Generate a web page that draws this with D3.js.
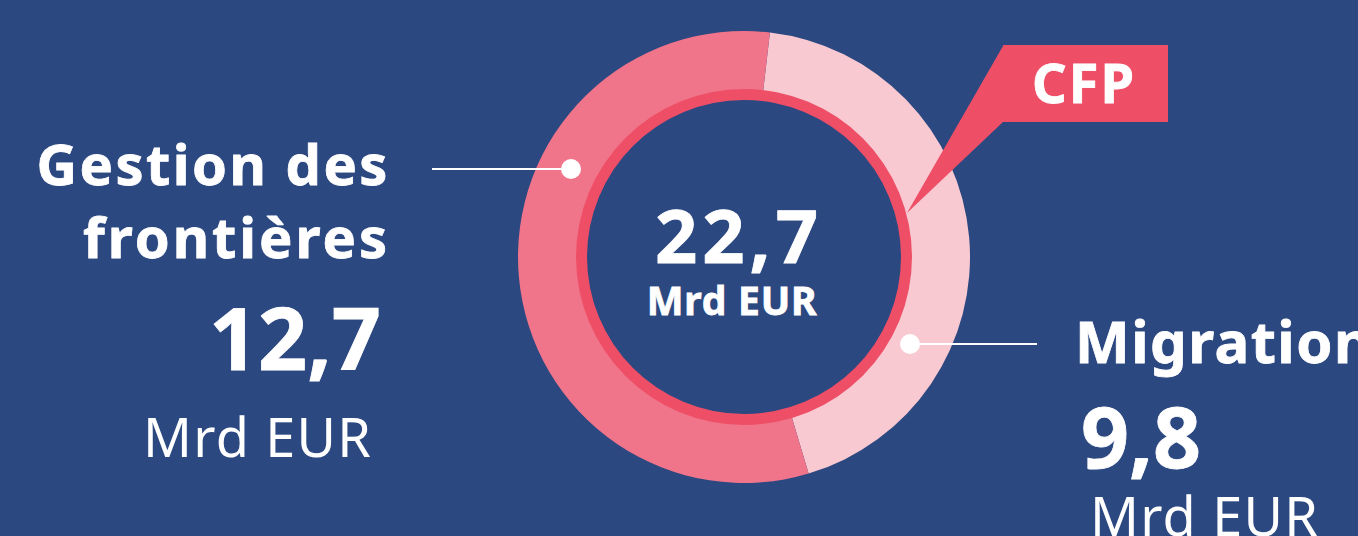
<!DOCTYPE html>
<html>
<head>
<meta charset="utf-8">
<script src="https://cdn.jsdelivr.net/npm/d3@7"></script>
<style>
  html, body { margin: 0; padding: 0; background: #2c4880; overflow: hidden; }
  svg { display: block; }
  text { font-family: "Noto Sans", "Open Sans", sans-serif; fill: #fff; }
  text.b { stroke: #fff; stroke-width: 0.8px; }
</style>
</head>
<body>
<svg></svg>
<script>
// data
const categories = ['Migration', 'Gestion des frontières']
const values = [9.8, 12.7]
const valueLabels = ['9,8', '12,7']
const totalLabel = '22,7'
const unit = 'Mrd EUR'
const calloutLabel = 'CFP'

const width = 1358
const height = 536
const cx = 744, cy = 257
const outerR = 226, innerR = 158

const colors = d3.scaleOrdinal()
    .domain(categories)
    .range(['#f9c9d2', '#f0748a'])

const svg = d3.select('svg')
    .attr('width', width)
    .attr('height', height)

svg.append('rect')
    .attr('width', width)
    .attr('height', height)
    .attr('fill', '#2c4880')

const startA = 0.115
const pie = d3.pie()
    .sort(null)
    .startAngle(startA)
    .endAngle(startA + 2 * Math.PI)
    .value(d => d.value)

const data = categories.map((c, i) => ({ name: c, value: values[i], label: valueLabels[i] }))
const arcs = pie(data)

const arc = d3.arc().innerRadius(innerR).outerRadius(outerR)

const g = svg.append('g').attr('transform', `translate(${cx},${cy})`)

g.selectAll('path.slice')
    .data(arcs)
    .enter()
    .append('path')
    .attr('class', 'slice')
    .attr('d', arc)
    .attr('fill', d => colors(d.data.name))

// red inner ring
g.append('path')
    .attr('d', d3.arc().innerRadius(157).outerRadius(168).startAngle(0).endAngle(2 * Math.PI)())
    .attr('fill', '#ee4f67')

// CFP callout
const callout = svg.append('g')
callout.append('path')
    .attr('d', 'M1003,46 L907,213 L1003,122 Z')
    .attr('fill', '#ee4f67')
callout.append('rect')
    .attr('x', 1003).attr('y', 45)
    .attr('width', 165).attr('height', 77)
    .attr('fill', '#ee4f67')
callout.append('text')
    .attr('class', 'b')
    .attr('x', 1084).attr('y', 103)
    .attr('text-anchor', 'middle')
    .attr('font-size', 54)
    .attr('font-weight', 700)
    .attr('letter-spacing', 2)
    .text(calloutLabel)

// center total
g.append('text')
    .attr('class', 'b')
    .attr('x', -5).attr('y', 6)
    .attr('text-anchor', 'middle')
    .attr('font-size', 74)
    .attr('font-weight', 700)
    .attr('letter-spacing', 5)
    .text(totalLabel)
g.append('text')
    .attr('class', 'b')
    .attr('x', -12).attr('y', 58)
    .attr('text-anchor', 'middle')
    .attr('font-size', 39)
    .attr('font-weight', 700)
    .attr('letter-spacing', 0.8)
    .text(unit)

// leaders
const leaders = [
    { dot: [910, 344], end: 1037 },
    { dot: [571, 169], end: 432 }
]
leaders.forEach(l => {
    svg.append('line')
        .attr('x1', l.dot[0]).attr('y1', l.dot[1])
        .attr('x2', l.end).attr('y2', l.dot[1])
        .attr('stroke', '#fff').attr('stroke-width', 2)
    svg.append('circle')
        .attr('cx', l.dot[0]).attr('cy', l.dot[1])
        .attr('r', 10).attr('fill', '#fff')
})

// left labels (Gestion des frontières)
const left = svg.append('g').attr('text-anchor', 'end')
left.append('text').attr('class', 'b').attr('x', 390).attr('y', 185)
    .attr('font-size', 56).attr('font-weight', 700).attr('letter-spacing', 2.5).text('Gestion des')
left.append('text').attr('class', 'b').attr('x', 390).attr('y', 258)
    .attr('font-size', 56).attr('font-weight', 700).attr('letter-spacing', 3).text('frontières')
left.append('text').attr('class', 'b').attr('x', 381).attr('y', 370)
    .attr('font-size', 86).attr('font-weight', 700).text(valueLabels[1])
left.append('text').attr('x', 372).attr('y', 457)
    .attr('font-size', 54).attr('font-weight', 400).attr('letter-spacing', 1.2).text(unit)

// right labels (Migration)
const right = svg.append('g').attr('text-anchor', 'start')
right.append('text').attr('class', 'b').attr('x', 1075).attr('y', 363)
    .attr('font-size', 58).attr('font-weight', 700).attr('letter-spacing', 1.5).text(categories[0])
right.append('text').attr('class', 'b').attr('x', 1081).attr('y', 468)
    .attr('font-size', 84).attr('font-weight', 700).text(valueLabels[0])
right.append('text').attr('x', 1090).attr('y', 536)
    .attr('font-size', 54).attr('font-weight', 400).attr('letter-spacing', 1.2).text(unit)
</script>
</body>
</html>
